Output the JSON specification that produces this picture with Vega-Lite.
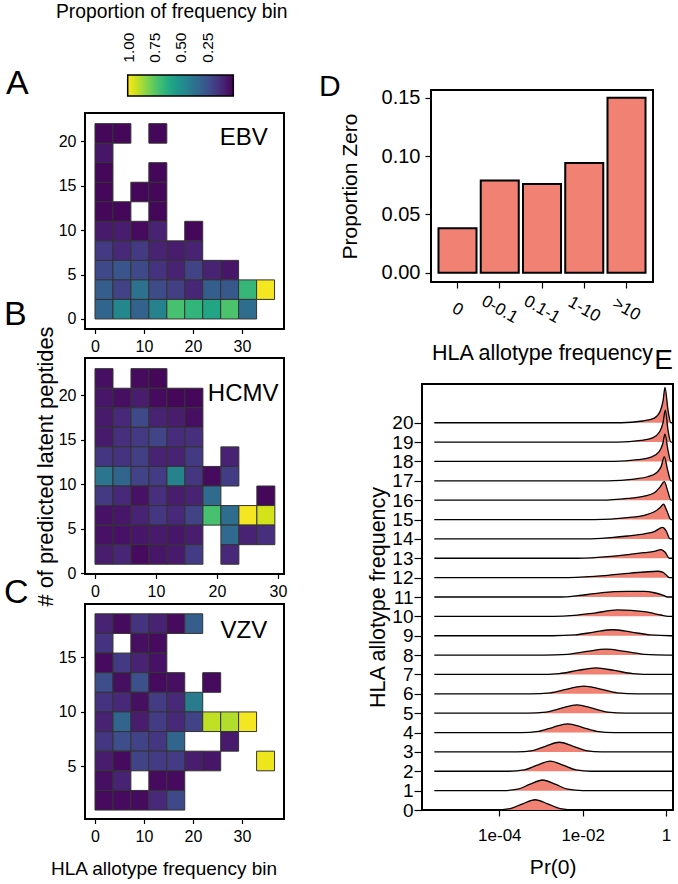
{
"$schema": "https://vega.github.io/schema/vega-lite/v6.json",
"padding": {"left": 3, "top": 2, "right": 0, "bottom": 0},
"config": {
  "font": "Liberation Sans",
  "view": {"stroke": "black", "strokeWidth": 2},
  "axis": {"domain": false, "grid": false, "tickColor": "black", "tickWidth": 1.2, "labelColor": "black", "titleColor": "black", "titleFontWeight": "normal", "labelFont": "Liberation Sans", "titleFont": "Liberation Sans"},
  "title": {"font": "Liberation Sans", "fontWeight": "normal", "color": "black"},
  "text": {"font": "Liberation Sans", "color": "black"}
},
"datasets": {
  "ebv": [
    {"x":0,"x2":3.67,"y":19.8,"y2":22,"p":0.02},{"x":3.67,"x2":7.33,"y":19.8,"y2":22,"p":0.02},{"x":11,"x2":14.67,"y":19.8,"y2":22,"p":0.02},
    {"x":0,"x2":3.67,"y":17.6,"y2":19.8,"p":0.06},
    {"x":0,"x2":3.67,"y":15.4,"y2":17.6,"p":0.02},{"x":11,"x2":14.67,"y":15.4,"y2":17.6,"p":0.02},
    {"x":0,"x2":3.67,"y":13.2,"y2":15.4,"p":0.02},{"x":7.33,"x2":11,"y":13.2,"y2":15.4,"p":0.02},{"x":11,"x2":14.67,"y":13.2,"y2":15.4,"p":0.02},
    {"x":0,"x2":3.67,"y":11,"y2":13.2,"p":0.02},{"x":3.67,"x2":7.33,"y":11,"y2":13.2,"p":0.02},{"x":11,"x2":14.67,"y":11,"y2":13.2,"p":0.02},
    {"x":0,"x2":3.67,"y":8.8,"y2":11,"p":0.07},{"x":3.67,"x2":7.33,"y":8.8,"y2":11,"p":0.08},{"x":7.33,"x2":11,"y":8.8,"y2":11,"p":0.03},{"x":11,"x2":14.67,"y":8.8,"y2":11,"p":0.1},{"x":18.33,"x2":22,"y":8.8,"y2":11,"p":0.02},
    {"x":0,"x2":3.67,"y":6.6,"y2":8.8,"p":0.17},{"x":3.67,"x2":7.33,"y":6.6,"y2":8.8,"p":0.12},{"x":7.33,"x2":11,"y":6.6,"y2":8.8,"p":0.17},{"x":11,"x2":14.67,"y":6.6,"y2":8.8,"p":0.1},{"x":14.67,"x2":18.33,"y":6.6,"y2":8.8,"p":0.08},{"x":18.33,"x2":22,"y":6.6,"y2":8.8,"p":0.1},
    {"x":0,"x2":3.67,"y":4.4,"y2":6.6,"p":0.22},{"x":3.67,"x2":7.33,"y":4.4,"y2":6.6,"p":0.27},{"x":7.33,"x2":11,"y":4.4,"y2":6.6,"p":0.22},{"x":11,"x2":14.67,"y":4.4,"y2":6.6,"p":0.15},{"x":14.67,"x2":18.33,"y":4.4,"y2":6.6,"p":0.1},{"x":18.33,"x2":22,"y":4.4,"y2":6.6,"p":0.2},{"x":22,"x2":25.67,"y":4.4,"y2":6.6,"p":0.1},{"x":25.67,"x2":29.33,"y":4.4,"y2":6.6,"p":0.06},
    {"x":0,"x2":3.67,"y":2.2,"y2":4.4,"p":0.3},{"x":3.67,"x2":7.33,"y":2.2,"y2":4.4,"p":0.2},{"x":7.33,"x2":11,"y":2.2,"y2":4.4,"p":0.38},{"x":11,"x2":14.67,"y":2.2,"y2":4.4,"p":0.23},{"x":14.67,"x2":18.33,"y":2.2,"y2":4.4,"p":0.19},{"x":18.33,"x2":22,"y":2.2,"y2":4.4,"p":0.11},{"x":22,"x2":25.67,"y":2.2,"y2":4.4,"p":0.3},{"x":25.67,"x2":29.33,"y":2.2,"y2":4.4,"p":0.28},{"x":29.33,"x2":33,"y":2.2,"y2":4.4,"p":0.68},{"x":33,"x2":36.67,"y":2.2,"y2":4.4,"p":1.0},
    {"x":0,"x2":3.67,"y":0,"y2":2.2,"p":0.33},{"x":3.67,"x2":7.33,"y":0,"y2":2.2,"p":0.47},{"x":7.33,"x2":11,"y":0,"y2":2.2,"p":0.32},{"x":11,"x2":14.67,"y":0,"y2":2.2,"p":0.45},{"x":14.67,"x2":18.33,"y":0,"y2":2.2,"p":0.72},{"x":18.33,"x2":22,"y":0,"y2":2.2,"p":0.67},{"x":22,"x2":25.67,"y":0,"y2":2.2,"p":0.6},{"x":25.67,"x2":29.33,"y":0,"y2":2.2,"p":0.73},{"x":29.33,"x2":33,"y":0,"y2":2.2,"p":0.36}
  ],
  "hcmv": [
    {"x":0,"x2":2.95,"y":20.8,"y2":23,"p":0.04},{"x":5.9,"x2":8.85,"y":20.8,"y2":23,"p":0.03},{"x":8.85,"x2":11.8,"y":20.8,"y2":23,"p":0.02},
    {"x":0,"x2":2.95,"y":18.6,"y2":20.8,"p":0.06},{"x":2.95,"x2":5.9,"y":18.6,"y2":20.8,"p":0.04},{"x":5.9,"x2":8.85,"y":18.6,"y2":20.8,"p":0.08},{"x":8.85,"x2":11.8,"y":18.6,"y2":20.8,"p":0.03},{"x":11.8,"x2":14.75,"y":18.6,"y2":20.8,"p":0.02},{"x":14.75,"x2":17.7,"y":18.6,"y2":20.8,"p":0.02},
    {"x":0,"x2":2.95,"y":16.4,"y2":18.6,"p":0.07},{"x":2.95,"x2":5.9,"y":16.4,"y2":18.6,"p":0.12},{"x":5.9,"x2":8.85,"y":16.4,"y2":18.6,"p":0.22},{"x":8.85,"x2":11.8,"y":16.4,"y2":18.6,"p":0.1},{"x":11.8,"x2":14.75,"y":16.4,"y2":18.6,"p":0.08},{"x":14.75,"x2":17.7,"y":16.4,"y2":18.6,"p":0.04},
    {"x":0,"x2":2.95,"y":14.2,"y2":16.4,"p":0.07},{"x":2.95,"x2":5.9,"y":14.2,"y2":16.4,"p":0.14},{"x":5.9,"x2":8.85,"y":14.2,"y2":16.4,"p":0.17},{"x":8.85,"x2":11.8,"y":14.2,"y2":16.4,"p":0.21},{"x":11.8,"x2":14.75,"y":14.2,"y2":16.4,"p":0.13},{"x":14.75,"x2":17.7,"y":14.2,"y2":16.4,"p":0.14},
    {"x":0,"x2":2.95,"y":12,"y2":14.2,"p":0.16},{"x":2.95,"x2":5.9,"y":12,"y2":14.2,"p":0.15},{"x":5.9,"x2":8.85,"y":12,"y2":14.2,"p":0.19},{"x":8.85,"x2":11.8,"y":12,"y2":14.2,"p":0.1},{"x":11.8,"x2":14.75,"y":12,"y2":14.2,"p":0.1},{"x":14.75,"x2":17.7,"y":12,"y2":14.2,"p":0.17},{"x":20.65,"x2":23.6,"y":12,"y2":14.2,"p":0.1},
    {"x":0,"x2":2.95,"y":9.8,"y2":12,"p":0.4},{"x":2.95,"x2":5.9,"y":9.8,"y2":12,"p":0.33},{"x":5.9,"x2":8.85,"y":9.8,"y2":12,"p":0.2},{"x":8.85,"x2":11.8,"y":9.8,"y2":12,"p":0.18},{"x":11.8,"x2":14.75,"y":9.8,"y2":12,"p":0.45},{"x":14.75,"x2":17.7,"y":9.8,"y2":12,"p":0.16},{"x":17.7,"x2":20.65,"y":9.8,"y2":12,"p":0.03},{"x":20.65,"x2":23.6,"y":9.8,"y2":12,"p":0.18},
    {"x":0,"x2":2.95,"y":7.6,"y2":9.8,"p":0.17},{"x":2.95,"x2":5.9,"y":7.6,"y2":9.8,"p":0.12},{"x":5.9,"x2":8.85,"y":7.6,"y2":9.8,"p":0.05},{"x":8.85,"x2":11.8,"y":7.6,"y2":9.8,"p":0.14},{"x":11.8,"x2":14.75,"y":7.6,"y2":9.8,"p":0.08},{"x":14.75,"x2":17.7,"y":7.6,"y2":9.8,"p":0.1},{"x":17.7,"x2":20.65,"y":7.6,"y2":9.8,"p":0.35},{"x":26.55,"x2":29.5,"y":7.6,"y2":9.8,"p":0.02},
    {"x":0,"x2":2.95,"y":5.4,"y2":7.6,"p":0.05},{"x":2.95,"x2":5.9,"y":5.4,"y2":7.6,"p":0.06},{"x":5.9,"x2":8.85,"y":5.4,"y2":7.6,"p":0.1},{"x":8.85,"x2":11.8,"y":5.4,"y2":7.6,"p":0.16},{"x":11.8,"x2":14.75,"y":5.4,"y2":7.6,"p":0.12},{"x":14.75,"x2":17.7,"y":5.4,"y2":7.6,"p":0.2},{"x":17.7,"x2":20.65,"y":5.4,"y2":7.6,"p":0.72},{"x":20.65,"x2":23.6,"y":5.4,"y2":7.6,"p":0.36},{"x":23.6,"x2":26.55,"y":5.4,"y2":7.6,"p":1.0},{"x":26.55,"x2":29.5,"y":5.4,"y2":7.6,"p":0.95},
    {"x":0,"x2":2.95,"y":3.2,"y2":5.4,"p":0.05},{"x":2.95,"x2":5.9,"y":3.2,"y2":5.4,"p":0.05},{"x":5.9,"x2":8.85,"y":3.2,"y2":5.4,"p":0.06},{"x":8.85,"x2":11.8,"y":3.2,"y2":5.4,"p":0.07},{"x":11.8,"x2":14.75,"y":3.2,"y2":5.4,"p":0.06},{"x":14.75,"x2":17.7,"y":3.2,"y2":5.4,"p":0.08},{"x":20.65,"x2":23.6,"y":3.2,"y2":5.4,"p":0.35},{"x":23.6,"x2":26.55,"y":3.2,"y2":5.4,"p":0.1},{"x":26.55,"x2":29.5,"y":3.2,"y2":5.4,"p":0.14},
    {"x":0,"x2":2.95,"y":1,"y2":3.2,"p":0.08},{"x":2.95,"x2":5.9,"y":1,"y2":3.2,"p":0.11},{"x":5.9,"x2":8.85,"y":1,"y2":3.2,"p":0.03},{"x":8.85,"x2":11.8,"y":1,"y2":3.2,"p":0.06},{"x":11.8,"x2":14.75,"y":1,"y2":3.2,"p":0.07},{"x":14.75,"x2":17.7,"y":1,"y2":3.2,"p":0.18},{"x":20.65,"x2":23.6,"y":1,"y2":3.2,"p":0.12}
  ],
  "vzv": [
    {"x":0,"x2":3.67,"y":17.2,"y2":19,"p":0.1},{"x":3.67,"x2":7.33,"y":17.2,"y2":19,"p":0.03},{"x":7.33,"x2":11,"y":17.2,"y2":19,"p":0.15},{"x":11,"x2":14.67,"y":17.2,"y2":19,"p":0.1},{"x":14.67,"x2":18.33,"y":17.2,"y2":19,"p":0.03},{"x":18.33,"x2":22,"y":17.2,"y2":19,"p":0.3},
    {"x":0,"x2":3.67,"y":15.4,"y2":17.2,"p":0.15},{"x":7.33,"x2":11,"y":15.4,"y2":17.2,"p":0.04},{"x":11,"x2":14.67,"y":15.4,"y2":17.2,"p":0.03},
    {"x":0,"x2":3.67,"y":13.6,"y2":15.4,"p":0.03},{"x":3.67,"x2":7.33,"y":13.6,"y2":15.4,"p":0.17},{"x":7.33,"x2":11,"y":13.6,"y2":15.4,"p":0.1},{"x":11,"x2":14.67,"y":13.6,"y2":15.4,"p":0.05},
    {"x":0,"x2":3.67,"y":11.8,"y2":13.6,"p":0.24},{"x":3.67,"x2":7.33,"y":11.8,"y2":13.6,"p":0.04},{"x":7.33,"x2":11,"y":11.8,"y2":13.6,"p":0.25},{"x":11,"x2":14.67,"y":11.8,"y2":13.6,"p":0.03},{"x":14.67,"x2":18.33,"y":11.8,"y2":13.6,"p":0.04},{"x":22,"x2":25.67,"y":11.8,"y2":13.6,"p":0.03},
    {"x":0,"x2":3.67,"y":10,"y2":11.8,"p":0.15},{"x":3.67,"x2":7.33,"y":10,"y2":11.8,"p":0.12},{"x":7.33,"x2":11,"y":10,"y2":11.8,"p":0.04},{"x":11,"x2":14.67,"y":10,"y2":11.8,"p":0.18},{"x":14.67,"x2":18.33,"y":10,"y2":11.8,"p":0.12},{"x":18.33,"x2":22,"y":10,"y2":11.8,"p":0.42},
    {"x":0,"x2":3.67,"y":8.2,"y2":10,"p":0.1},{"x":3.67,"x2":7.33,"y":8.2,"y2":10,"p":0.33},{"x":7.33,"x2":11,"y":8.2,"y2":10,"p":0.08},{"x":11,"x2":14.67,"y":8.2,"y2":10,"p":0.18},{"x":14.67,"x2":18.33,"y":8.2,"y2":10,"p":0.12},{"x":18.33,"x2":22,"y":8.2,"y2":10,"p":0.2},{"x":22,"x2":25.67,"y":8.2,"y2":10,"p":0.92},{"x":25.67,"x2":29.33,"y":8.2,"y2":10,"p":0.9},{"x":29.33,"x2":33,"y":8.2,"y2":10,"p":1.0},
    {"x":0,"x2":3.67,"y":6.4,"y2":8.2,"p":0.16},{"x":3.67,"x2":7.33,"y":6.4,"y2":8.2,"p":0.24},{"x":7.33,"x2":11,"y":6.4,"y2":8.2,"p":0.2},{"x":11,"x2":14.67,"y":6.4,"y2":8.2,"p":0.16},{"x":14.67,"x2":18.33,"y":6.4,"y2":8.2,"p":0.33},{"x":25.67,"x2":29.33,"y":6.4,"y2":8.2,"p":0.07},
    {"x":0,"x2":3.67,"y":4.6,"y2":6.4,"p":0.08},{"x":3.67,"x2":7.33,"y":4.6,"y2":6.4,"p":0.03},{"x":7.33,"x2":11,"y":4.6,"y2":6.4,"p":0.2},{"x":11,"x2":14.67,"y":4.6,"y2":6.4,"p":0.18},{"x":14.67,"x2":18.33,"y":4.6,"y2":6.4,"p":0.18},{"x":18.33,"x2":22,"y":4.6,"y2":6.4,"p":0.08},{"x":22,"x2":25.67,"y":4.6,"y2":6.4,"p":0.06},{"x":33,"x2":36.67,"y":4.6,"y2":6.4,"p":0.99},
    {"x":0,"x2":3.67,"y":2.8,"y2":4.6,"p":0.04},{"x":3.67,"x2":7.33,"y":2.8,"y2":4.6,"p":0.1},{"x":11,"x2":14.67,"y":2.8,"y2":4.6,"p":0.03},{"x":14.67,"x2":18.33,"y":2.8,"y2":4.6,"p":0.03},
    {"x":0,"x2":3.67,"y":1,"y2":2.8,"p":0.03},{"x":3.67,"x2":7.33,"y":1,"y2":2.8,"p":0.03},{"x":7.33,"x2":11,"y":1,"y2":2.8,"p":0.03},{"x":11,"x2":14.67,"y":1,"y2":2.8,"p":0.12},{"x":14.67,"x2":18.33,"y":1,"y2":2.8,"p":0.22}
  ],
  "zero": [
    {"freq":"0","prop":0.038},{"freq":"0-0.1","prop":0.079},{"freq":"0.1-1","prop":0.076},{"freq":"1-10","prop":0.094},{"freq":">10","prop":0.150}
  ],
  "ridges": [
    {"k":0,"lp":-5.56,"t":0},{"k":0,"lp":-4.1,"t":0},{"k":0,"lp":-3.74,"t":0.072},{"k":0,"lp":-3.44,"t":0.322},{"k":0,"lp":-3.14,"t":0.53},{"k":0,"lp":-2.84,"t":0.322},{"k":0,"lp":-2.54,"t":0.072},{"k":0,"lp":-2.18,"t":0},{"k":0,"lp":0.165,"t":0},
    {"k":1,"lp":-5.56,"t":1},{"k":1,"lp":-3.92,"t":1},{"k":1,"lp":-3.56,"t":1.074},{"k":1,"lp":-3.26,"t":1.334},{"k":1,"lp":-2.96,"t":1.55},{"k":1,"lp":-2.66,"t":1.334},{"k":1,"lp":-2.36,"t":1.074},{"k":1,"lp":-2.0,"t":1},{"k":1,"lp":0.165,"t":1},
    {"k":2,"lp":-5.56,"t":2},{"k":2,"lp":-3.77,"t":2},{"k":2,"lp":-3.4,"t":2.07},{"k":2,"lp":-3.09,"t":2.316},{"k":2,"lp":-2.78,"t":2.52},{"k":2,"lp":-2.47,"t":2.316},{"k":2,"lp":-2.16,"t":2.07},{"k":2,"lp":-1.79,"t":2},{"k":2,"lp":0.165,"t":2},
    {"k":3,"lp":-5.56,"t":3},{"k":3,"lp":-3.58,"t":3},{"k":3,"lp":-3.2,"t":3.068},{"k":3,"lp":-2.88,"t":3.304},{"k":3,"lp":-2.56,"t":3.5},{"k":3,"lp":-2.24,"t":3.304},{"k":3,"lp":-1.92,"t":3.068},{"k":3,"lp":-1.54,"t":3},{"k":3,"lp":0.165,"t":3},
    {"k":4,"lp":-5.56,"t":4},{"k":4,"lp":-3.48,"t":4},{"k":4,"lp":-3.06,"t":4.061},{"k":4,"lp":-2.71,"t":4.273},{"k":4,"lp":-2.36,"t":4.45},{"k":4,"lp":-2.01,"t":4.273},{"k":4,"lp":-1.66,"t":4.061},{"k":4,"lp":-1.24,"t":4},{"k":4,"lp":0.165,"t":4},
    {"k":5,"lp":-5.56,"t":5},{"k":5,"lp":-3.32,"t":5},{"k":5,"lp":-2.88,"t":5.058},{"k":5,"lp":-2.51,"t":5.261},{"k":5,"lp":-2.14,"t":5.43},{"k":5,"lp":-1.77,"t":5.261},{"k":5,"lp":-1.4,"t":5.058},{"k":5,"lp":-0.96,"t":5},{"k":5,"lp":0.165,"t":5},
    {"k":6,"lp":-5.56,"t":6},{"k":6,"lp":-3.25,"t":6},{"k":6,"lp":-2.77,"t":6.054},{"k":6,"lp":-2.37,"t":6.243},{"k":6,"lp":-1.97,"t":6.4},{"k":6,"lp":-1.57,"t":6.243},{"k":6,"lp":-1.17,"t":6.054},{"k":6,"lp":-0.69,"t":6},{"k":6,"lp":0.165,"t":6},
    {"k":7,"lp":-5.56,"t":7},{"k":7,"lp":-3.09,"t":7},{"k":7,"lp":-2.56,"t":7.046},{"k":7,"lp":-2.12,"t":7.206},{"k":7,"lp":-1.68,"t":7.34},{"k":7,"lp":-1.24,"t":7.206},{"k":7,"lp":-0.8,"t":7.046},{"k":7,"lp":-0.27,"t":7},{"k":7,"lp":0.165,"t":7},
    {"k":8,"lp":-5.56,"t":8},{"k":8,"lp":-2.91,"t":8},{"k":8,"lp":-2.36,"t":8.042},{"k":8,"lp":-1.9,"t":8.188},{"k":8,"lp":-1.44,"t":8.31},{"k":8,"lp":-0.98,"t":8.188},{"k":8,"lp":-0.52,"t":8.042},{"k":8,"lp":0.03,"t":8},{"k":8,"lp":0.165,"t":8},
    {"k":9,"lp":-5.56,"t":9},{"k":9,"lp":-2.72,"t":9},{"k":9,"lp":-2.18,"t":9.042},{"k":9,"lp":-1.73,"t":9.188},{"k":9,"lp":-1.28,"t":9.31},{"k":9,"lp":-0.83,"t":9.188},{"k":9,"lp":-0.38,"t":9.042},{"k":9,"lp":0.1,"t":9},{"k":9,"lp":0.165,"t":9},
    {"k":10,"lp":-5.56,"t":10},{"k":10,"lp":-2.7,"t":10},{"k":10,"lp":-2.2,"t":10.05},{"k":10,"lp":-1.72,"t":10.17},{"k":10,"lp":-1.16,"t":10.33},{"k":10,"lp":-0.52,"t":10.24},{"k":10,"lp":-0.12,"t":10.07},{"k":10,"lp":0.05,"t":10},{"k":10,"lp":0.165,"t":10},
    {"k":11,"lp":-5.56,"t":11},{"k":11,"lp":-2.52,"t":11},{"k":11,"lp":-2.12,"t":11.07},{"k":11,"lp":-1.72,"t":11.17},{"k":11,"lp":-1.24,"t":11.28},{"k":11,"lp":-0.92,"t":11.29},{"k":11,"lp":-0.52,"t":11.29},{"k":11,"lp":-0.28,"t":11.22},{"k":11,"lp":-0.08,"t":11.1},{"k":11,"lp":0.04,"t":11},{"k":11,"lp":0.165,"t":11},
    {"k":12,"lp":-5.56,"t":12},{"k":12,"lp":-2.52,"t":12},{"k":12,"lp":-1.72,"t":12.07},{"k":12,"lp":-1.32,"t":12.14},{"k":12,"lp":-0.92,"t":12.22},{"k":12,"lp":-0.52,"t":12.29},{"k":12,"lp":-0.2,"t":12.33},{"k":12,"lp":-0.08,"t":12.28},{"k":12,"lp":0,"t":12.15},{"k":12,"lp":0.08,"t":12},{"k":12,"lp":0.165,"t":12},
    {"k":13,"lp":-5.56,"t":13},{"k":13,"lp":-2.12,"t":13},{"k":13,"lp":-1.32,"t":13.1},{"k":13,"lp":-0.92,"t":13.19},{"k":13,"lp":-0.52,"t":13.29},{"k":13,"lp":-0.28,"t":13.36},{"k":13,"lp":-0.12,"t":13.45},{"k":13,"lp":-0.02,"t":13.31},{"k":13,"lp":0.08,"t":13},{"k":13,"lp":0.165,"t":13},
    {"k":14,"lp":-5.56,"t":14},{"k":14,"lp":-1.88,"t":14},{"k":14,"lp":-1.32,"t":14.07},{"k":14,"lp":-0.92,"t":14.15},{"k":14,"lp":-0.52,"t":14.26},{"k":14,"lp":-0.28,"t":14.38},{"k":14,"lp":-0.08,"t":14.6},{"k":14,"lp":0,"t":14.43},{"k":14,"lp":0.1,"t":14},{"k":14,"lp":0.165,"t":14},
    {"k":15,"lp":-5.56,"t":15},{"k":15,"lp":-1.72,"t":15},{"k":15,"lp":-0.92,"t":15.1},{"k":15,"lp":-0.52,"t":15.22},{"k":15,"lp":-0.28,"t":15.4},{"k":15,"lp":-0.16,"t":15.58},{"k":15,"lp":-0.06,"t":15.79},{"k":15,"lp":0.02,"t":15.45},{"k":15,"lp":0.12,"t":15},{"k":15,"lp":0.165,"t":15},
    {"k":16,"lp":-5.56,"t":16},{"k":16,"lp":-1.56,"t":16},{"k":16,"lp":-0.92,"t":16.09},{"k":16,"lp":-0.52,"t":16.21},{"k":16,"lp":-0.28,"t":16.38},{"k":16,"lp":-0.14,"t":16.69},{"k":16,"lp":-0.04,"t":16.96},{"k":16,"lp":0.04,"t":16.48},{"k":16,"lp":0.12,"t":16},{"k":16,"lp":0.165,"t":16},
    {"k":17,"lp":-5.56,"t":17},{"k":17,"lp":-1.4,"t":17},{"k":17,"lp":-0.76,"t":17.09},{"k":17,"lp":-0.44,"t":17.21},{"k":17,"lp":-0.22,"t":17.43},{"k":17,"lp":-0.12,"t":17.72},{"k":17,"lp":-0.04,"t":18.24},{"k":17,"lp":0.04,"t":17.55},{"k":17,"lp":0.12,"t":17},{"k":17,"lp":0.165,"t":17},
    {"k":18,"lp":-5.56,"t":18},{"k":18,"lp":-1.24,"t":18},{"k":18,"lp":-0.68,"t":18.09},{"k":18,"lp":-0.36,"t":18.22},{"k":18,"lp":-0.16,"t":18.52},{"k":18,"lp":-0.08,"t":18.9},{"k":18,"lp":-0.024,"t":19.41},{"k":18,"lp":0.05,"t":18.55},{"k":18,"lp":0.12,"t":18},{"k":18,"lp":0.165,"t":18},
    {"k":19,"lp":-5.56,"t":19},{"k":19,"lp":-1.16,"t":19},{"k":19,"lp":-0.6,"t":19.09},{"k":19,"lp":-0.32,"t":19.22},{"k":19,"lp":-0.15,"t":19.55},{"k":19,"lp":-0.07,"t":20.02},{"k":19,"lp":-0.016,"t":20.65},{"k":19,"lp":0.05,"t":19.59},{"k":19,"lp":0.12,"t":19},{"k":19,"lp":0.165,"t":19},
    {"k":20,"lp":-5.56,"t":20},{"k":20,"lp":-1.08,"t":20},{"k":20,"lp":-0.56,"t":20.09},{"k":20,"lp":-0.28,"t":20.24},{"k":20,"lp":-0.14,"t":20.59},{"k":20,"lp":-0.07,"t":21.14},{"k":20,"lp":-0.024,"t":21.82},{"k":20,"lp":0.05,"t":20.62},{"k":20,"lp":0.12,"t":20},{"k":20,"lp":0.165,"t":20}
  ]
},
"bounds": "flush",
"spacing": 337,
"hconcat": [
  {
    "bounds": "flush",
    "spacing": 22,
    "vconcat": [
      {
        "width": 199, "height": 1,
        "data": {"values": [{}]},
        "mark": {"type": "text", "text": ""},
        "encoding": {},
        "view": {"stroke": null},
        "title": {"text": "Proportion of frequency bin", "anchor": "start", "frame": "group", "dx": -29, "offset": 47.7, "fontSize": 19.3, "baseline": "alphabetic"}
      },
      {
        "bounds": "flush",
        "spacing": 29,
        "vconcat": [
          {
            "width": 199, "height": 216,
            "title": {"text": "A", "anchor": "start", "frame": "group", "dx": -79, "offset": -15.3, "fontSize": 34, "baseline": "alphabetic"},
            "layer": [
              {
                "data": {"name": "ebv"},
                "mark": {"type": "rect", "stroke": "#333333", "strokeWidth": 1},
                "encoding": {
                  "x": {"field": "x", "type": "quantitative", "scale": {"domain": [-2.04, 38.6], "nice": false, "zero": false}, "axis": {"values": [0, 10, 20, 30], "title": null, "tickSize": 4.5, "labelPadding": 5, "labelFontSize": 16}},
                  "x2": {"field": "x2"},
                  "y": {"field": "y", "type": "quantitative", "scale": {"domain": [-1.13, 23.2], "nice": false, "zero": false}, "axis": {"values": [0, 5, 10, 15, 20], "title": null, "tickSize": 4.5, "labelPadding": 4.5, "labelFontSize": 16}},
                  "y2": {"field": "y2"},
                  "color": {"field": "p", "type": "quantitative", "title": null,
                    "scale": {"domain": [1.015, 0.004], "scheme": {"name": "viridis", "extent": [1, 0]}, "nice": false, "zero": false},
                    "legend": {"orient": "none", "legendX": 42.7, "legendY": -15, "direction": "horizontal", "gradientLength": 105.6, "gradientThickness": 21, "title": null, "values": [1, 0.75, 0.5, 0.25], "format": ".2f", "labelFontSize": 15.5, "labelColor": "black", "labelOffset": -33.3, "labelAlign": "left", "labelBaseline": "middle", "labelOverlap": false, "gradientStrokeColor": "black", "gradientStrokeWidth": 1.5, "padding": 0,
                      "encoding": {"labels": {"angle": {"value": -90}, "align": {"value": "left"}, "baseline": {"value": "middle"}}}}
                  }
                }
              },
              {
                "data": {"values": [{"label": "EBV", "x": 30.4, "y": 20.4}]},
                "mark": {"type": "text", "fontSize": 24, "baseline": "middle"},
                "encoding": {"x": {"field": "x", "type": "quantitative"}, "y": {"field": "y", "type": "quantitative"}, "text": {"field": "label"}}
              }
            ]
          },
          {
            "bounds": "flush",
            "spacing": 30,
            "vconcat": [
              {
                "width": 199, "height": 216,
                "title": {"text": "B", "anchor": "start", "frame": "group", "dx": -81, "offset": -32.5, "fontSize": 34, "baseline": "alphabetic"},
                "layer": [
                  {
                    "data": {"name": "hcmv"},
                    "mark": {"type": "rect", "stroke": "#333333", "strokeWidth": 1},
                    "encoding": {
                      "x": {"field": "x", "type": "quantitative", "scale": {"domain": [-1.64, 31.0], "nice": false, "zero": false}, "axis": {"values": [0, 10, 20, 30], "title": null, "tickSize": 4.5, "labelPadding": 5, "labelFontSize": 16}},
                      "x2": {"field": "x2"},
                      "y": {"field": "y", "type": "quantitative", "scale": {"domain": [-0.1, 24.2], "nice": false, "zero": false}, "axis": {"values": [0, 5, 10, 15, 20], "title": "# of predicted latent peptides", "titleFontSize": 21.8, "titleX": -33, "titleY": 108, "titleAlign": "center", "titleBaseline": "alphabetic", "titleAngle": -90, "tickSize": 4.5, "labelPadding": 4.5, "labelFontSize": 16}},
                      "y2": {"field": "y2"},
                      "color": {"field": "p", "type": "quantitative", "scale": {"domain": [1.015, 0.004], "scheme": {"name": "viridis", "extent": [1, 0]}, "nice": false, "zero": false}, "legend": null}
                    }
                  },
                  {
                    "data": {"values": [{"label": "HCMV", "x": 24.3, "y": 20.1}]},
                    "mark": {"type": "text", "fontSize": 24, "baseline": "middle"},
                    "encoding": {"x": {"field": "x", "type": "quantitative"}, "y": {"field": "y", "type": "quantitative"}, "text": {"field": "label"}}
                  }
                ]
              },
              {
                "width": 199, "height": 215,
                "title": {"text": "C", "anchor": "start", "frame": "group", "dx": -81, "offset": -32.5, "fontSize": 34, "baseline": "alphabetic"},
                "layer": [
                  {
                    "data": {"name": "vzv"},
                    "mark": {"type": "rect", "stroke": "#333333", "strokeWidth": 1},
                    "encoding": {
                      "x": {"field": "x", "type": "quantitative", "scale": {"domain": [-2.04, 38.6], "nice": false, "zero": false}, "axis": {"values": [0, 10, 20, 30], "title": "HLA allotype frequency bin", "titleFontSize": 19, "titleX": 78.5, "titleY": 55, "titleAlign": "center", "titleBaseline": "alphabetic", "tickSize": 4.5, "labelPadding": 5, "labelFontSize": 16}},
                      "x2": {"field": "x2"},
                      "y": {"field": "y", "type": "quantitative", "scale": {"domain": [0.18, 19.9], "nice": false, "zero": false}, "axis": {"values": [5, 10, 15], "title": null, "tickSize": 4.5, "labelPadding": 4.5, "labelFontSize": 16}},
                      "y2": {"field": "y2"},
                      "color": {"field": "p", "type": "quantitative", "scale": {"domain": [1.015, 0.004], "scheme": {"name": "viridis", "extent": [1, 0]}, "nice": false, "zero": false}, "legend": null}
                    }
                  },
                  {
                    "data": {"values": [{"label": "VZV", "x": 30.4, "y": 17.4}]},
                    "mark": {"type": "text", "fontSize": 24, "baseline": "middle"},
                    "encoding": {"x": {"field": "x", "type": "quantitative"}, "y": {"field": "y", "type": "quantitative"}, "text": {"field": "label"}}
                  }
                ]
              }
            ]
          }
        ]
      }
    ]
  },
  {
    "bounds": "flush",
    "spacing": 294,
    "vconcat": [
      {
        "bounds": "flush",
        "spacing": 8,
        "hconcat": [
          {
            "width": 1, "height": 1,
            "data": {"values": [{}]},
            "mark": {"type": "text", "text": ""},
            "encoding": {},
            "view": {"stroke": null}
          },
          {
            "width": 222, "height": 192,
            "data": {"name": "zero"},
            "title": {"text": "D", "anchor": "start", "frame": "group", "dx": -112, "offset": -38.3, "fontSize": 30, "baseline": "alphabetic"},
            "mark": {"type": "bar", "fill": "#F08173", "stroke": "black", "strokeWidth": 2},
            "encoding": {
              "x": {"field": "freq", "type": "nominal", "sort": ["0", "0-0.1", "0.1-1", "1-10", ">10"], "scale": {"paddingInner": 0.1, "paddingOuter": 0.177},
                "axis": {"title": "HLA allotype frequency", "titleFontSize": 21.5, "titleX": 111, "titleY": 77, "titleAlign": "center", "titleBaseline": "alphabetic", "labelAngle": 30, "labelAlign": "center", "labelBaseline": "middle", "labelFontSize": 17, "tickSize": 6, "labelPadding": 21}},
              "y": {"field": "prop", "type": "quantitative", "scale": {"domain": [-0.008, 0.1566], "nice": false, "zero": false},
                "axis": {"values": [0, 0.05, 0.1, 0.15], "format": ".2f", "title": "Proportion Zero", "titleFontSize": 21, "titleX": -75, "titleY": 96, "titleAlign": "center", "titleBaseline": "alphabetic", "titleAngle": -90, "labelFontSize": 20, "tickSize": 6, "labelPadding": 5}},
              "y2": {"datum": 0}
            }
          }
        ]
      },
      {
        "width": 251, "height": 426,
        "data": {"name": "ridges"},
        "title": {"text": "E", "anchor": "end", "frame": "group", "dx": 0, "offset": -13, "fontSize": 28, "baseline": "alphabetic"},
        "encoding": {
          "x": {"field": "lp", "type": "quantitative", "scale": {"domain": [-5.855, 0.168], "nice": false, "zero": false},
            "axis": {"values": [-4, -2, 0], "labelExpr": "datum.value == 0 ? '1' : datum.value == -2 ? '1e-02' : '1e-04'", "title": "Pr(0)", "titleFontSize": 21, "titleX": 130.7, "titleY": 63, "titleAlign": "center", "titleBaseline": "alphabetic", "labelFontSize": 17, "tickSize": 6, "labelPadding": 11}},
          "y": {"field": "t", "type": "quantitative", "scale": {"domain": [0, 22], "nice": false, "zero": false},
            "axis": {"values": [0,1,2,3,4,5,6,7,8,9,10,11,12,13,14,15,16,17,18,19,20], "title": "HLA allotype frequency", "titleFontSize": 21.5, "titleX": -38, "titleY": 213, "titleAlign": "center", "titleBaseline": "alphabetic", "titleAngle": -90, "labelFontSize": 19, "labelOverlap": false, "tickSize": 8, "labelPadding": 1}},
          "detail": {"field": "k", "type": "nominal"}
        },
        "layer": [
          {"mark": {"type": "area", "fill": "#F08173", "interpolate": "monotone"}, "encoding": {"y2": {"field": "k"}}},
          {"mark": {"type": "line", "stroke": "black", "strokeWidth": 1.3, "interpolate": "monotone"}}
        ]
      }
    ]
  }
]
}
